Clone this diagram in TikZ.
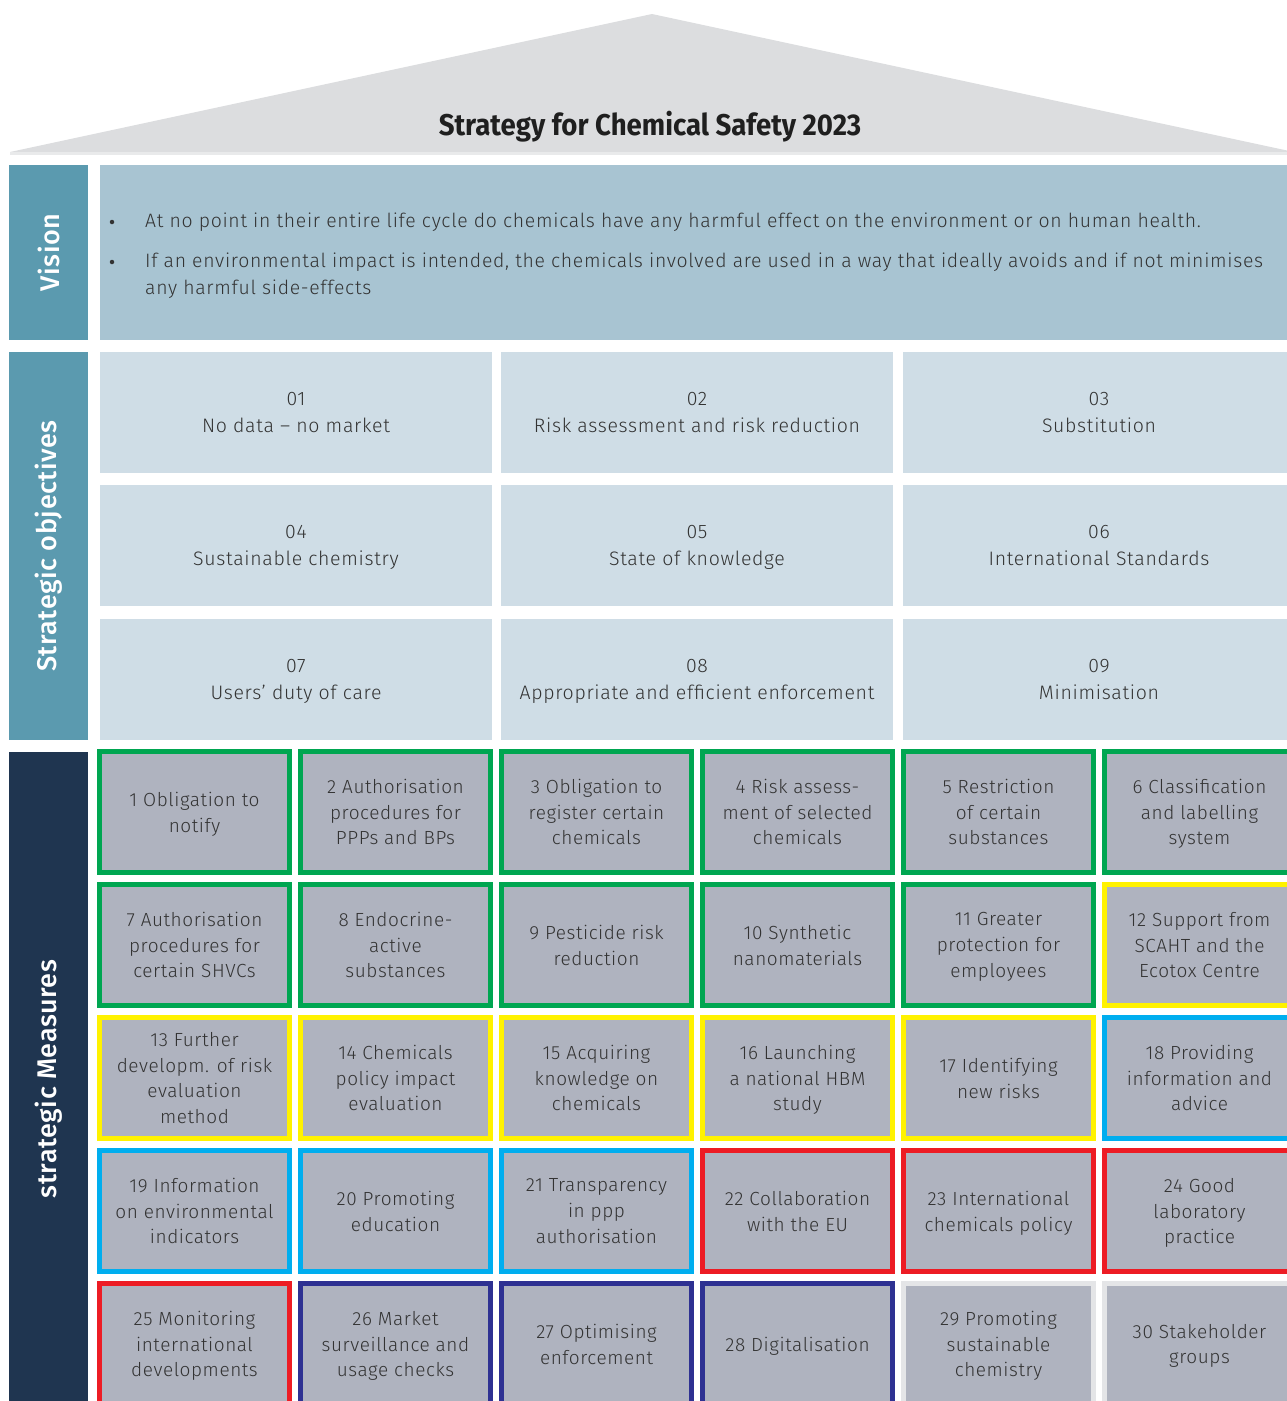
\documentclass[tikz,border=0pt]{standalone}
\usepackage{fontspec}
\IfFontExistsTF{Fira Sans Light}
  {\setmainfont{Fira Sans Light}[BoldFont=Fira Sans]}
  {\setmainfont{Fira Sans}}
\IfFontExistsTF{Fira Sans Medium}
  {\newfontfamily\sidefont{Fira Sans Medium}}
  {\newfontfamily\sidefont{Fira Sans}}
\newfontfamily\titlefont{Fira Sans}[FakeStretch=0.92]
\definecolor{roofgray}{HTML}{DCDDDF}
\definecolor{roofedge}{HTML}{E9EAEB}
\definecolor{teal}{HTML}{5B9AAF}
\definecolor{visionfill}{HTML}{A8C4D2}
\definecolor{objfill}{HTML}{CFDDE6}
\definecolor{navyband}{HTML}{1F3550}
\definecolor{measfill}{HTML}{AFB3BF}
\definecolor{txt}{HTML}{333333}
\definecolor{mgreen}{HTML}{00A651}
\definecolor{myellow}{HTML}{FFF200}
\definecolor{mcyan}{HTML}{00AEEF}
\definecolor{mred}{HTML}{ED1C24}
\definecolor{mnavy}{HTML}{2E3192}
\definecolor{mlight}{HTML}{E4E5E7}
\tikzset{
  sidelabel/.style={fill=#1, inner sep=0pt, minimum width=79pt},
  sidetext/.style={text=white, rotate=90, font=\sidefont\fontsize{27}{30}\selectfont\addfontfeatures{LetterSpace=2}},
  % a reduced text depth lowers the text block a little inside its box
  objbox/.style={fill=objfill, inner sep=0pt, minimum width=392pt, minimum height=121pt,
    align=center, text=txt, text depth=-3.5pt,
    font=\fontsize{19.5}{26.5}\selectfont\addfontfeatures{LetterSpace=3.5}},
  mbox/.style={draw=#1, line width=5pt, fill=measfill, inner sep=0pt,
    minimum width=190pt, minimum height=121pt, align=center, text=txt, text depth=-2.5pt,
    font=\fontsize{19}{25.7}\selectfont\addfontfeatures{LetterSpace=3}},
  vtext/.style={anchor=west, text=txt, inner sep=0pt,
    font=\fontsize{19.4}{27}\selectfont\addfontfeatures{LetterSpace=3.6}, align=left},
  bulletdot/.style={circle, fill=txt, inner sep=0pt, minimum size=4.5pt},
}
\begin{document}
\begin{tikzpicture}[x=1pt,y=-1pt]
\useasboundingbox (0,0) rectangle (1287,1401);
\clip (0,0) rectangle (1287,1401);

% roof
\fill[roofgray] (10,152) -- (652,14) -- (1294,152) -- cycle;
\fill[roofedge] (10,152) rectangle (1294,155);
\node[font=\titlefont\bfseries\fontsize{30}{34}\selectfont, text=black!88] (title) at (650,127) {Strategy for Chemical Safety 2023};

% vision
\node[sidelabel=teal, minimum height=175pt] (visionlbl) at (48.5,252.5) {};
\node[sidetext] (visiontxt) at (visionlbl.center) {Vision};
\node[fill=visionfill, inner sep=0pt, minimum width=1195pt, minimum height=175pt] (visionbox) at (697.5,252.5) {};
\node[bulletdot] (bul1) at (112,222) {};
\node[bulletdot] (bul2) at (112,262) {};
\node[vtext] (vis1) at (145,222) {At no point in their entire life cycle do chemicals have any harmful effect on the environment or on human health.};
\node[vtext, anchor=north west] (vis2) at (145,253) {If an environmental impact is intended, the chemicals involved are used in a way that ideally avoids and if not minimises\\any harmful side-effects};

% strategic objectives
\node[sidelabel=teal, minimum height=388pt] (objlbl) at (48.5,546) {};
\node[sidetext] (objtxt) at (objlbl.center) {Strategic objectives};
\node[objbox] (o1) at (296,412.5) {01\\No data -- no market};
\node[objbox] (o2) at (697,412.5) {02\\Risk assessment and risk reduction};
\node[objbox] (o3) at (1099,412.5) {03\\Substitution};
\node[objbox] (o4) at (296,545.5) {04\\Sustainable chemistry};
\node[objbox] (o5) at (697,545.5) {05\\State of knowledge};
\node[objbox] (o6) at (1099,545.5) {06\\International Standards};
\node[objbox] (o7) at (296,679.5) {07\\Users’ duty of care};
\node[objbox] (o8) at (697,679.5) {08\\Appropriate and efficient enforcement};
\node[objbox] (o9) at (1099,679.5) {09\\Minimisation};

% strategic measures
\node[sidelabel=navyband, minimum height=660pt] (measlbl) at (48.5,1082) {};
\node[sidetext] (meastxt) at (48.5,1079) {strategic Measures};

% row 1
\node[mbox=mgreen] (m1) at (194.5,812) {1 Obligation to\\notify};
\node[mbox=mgreen] (m2) at (395.5,812) {2 Authorisation\\procedures for\\PPPs and BPs};
\node[mbox=mgreen] (m3) at (596.5,812) {3 Obligation to\\register certain\\chemicals};
\node[mbox=mgreen] (m4) at (797.5,812) {4 Risk assess-\\ment of selected\\chemicals};
\node[mbox=mgreen] (m5) at (998.5,812) {5 Restriction\\of certain\\substances};
\node[mbox=mgreen] (m6) at (1199.5,812) {6 Classification\\and labelling\\system};
% row 2
\node[mbox=mgreen] (m7) at (194.5,945) {7 Authorisation\\procedures for\\certain SHVCs};
\node[mbox=mgreen] (m8) at (395.5,945) {8 Endocrine-\\active\\substances};
\node[mbox=mgreen] (m9) at (596.5,945) {9 Pesticide risk\\reduction};
\node[mbox=mgreen] (m10) at (797.5,945) {10 Synthetic\\nanomaterials};
\node[mbox=mgreen] (m11) at (998.5,945) {11 Greater\\protection for\\employees};
\node[mbox=myellow] (m12) at (1199.5,945) {12 Support from\\SCAHT and the\\Ecotox Centre};
% row 3
\node[mbox=myellow] (m13) at (194.5,1078) {13 Further\\developm. of risk\\evaluation\\method};
\node[mbox=myellow] (m14) at (395.5,1078) {14 Chemicals\\policy impact\\evaluation};
\node[mbox=myellow] (m15) at (596.5,1078) {15 Acquiring\\knowledge on\\chemicals};
\node[mbox=myellow] (m16) at (797.5,1078) {16 Launching\\a national HBM\\study};
\node[mbox=myellow] (m17) at (998.5,1078) {17 Identifying\\new risks};
\node[mbox=mcyan] (m18) at (1199.5,1078) {18 Providing\\information and\\advice};
% row 4
\node[mbox=mcyan] (m19) at (194.5,1211) {19 Information\\on environmental\\indicators};
\node[mbox=mcyan] (m20) at (395.5,1211) {20 Promoting\\education};
\node[mbox=mcyan] (m21) at (596.5,1211) {21 Transparency\\in ppp\\authorisation};
\node[mbox=mred] (m22) at (797.5,1211) {22 Collaboration\\with the EU};
\node[mbox=mred] (m23) at (998.5,1211) {23 International\\chemicals policy};
\node[mbox=mred] (m24) at (1199.5,1211) {24 Good\\laboratory\\practice};
% row 5
\node[mbox=mred] (m25) at (194.5,1344) {25 Monitoring\\international\\developments};
\node[mbox=mnavy] (m26) at (395.5,1344) {26 Market\\surveillance and\\usage checks};
\node[mbox=mnavy] (m27) at (596.5,1344) {27 Optimising\\enforcement};
\node[mbox=mnavy] (m28) at (797.5,1344) {28 Digitalisation};
\node[mbox=mlight] (m29) at (998.5,1344) {29 Promoting\\sustainable\\chemistry};
\node[mbox=mlight] (m30) at (1199.5,1344) {30 Stakeholder\\groups};
\end{tikzpicture}
\end{document}
